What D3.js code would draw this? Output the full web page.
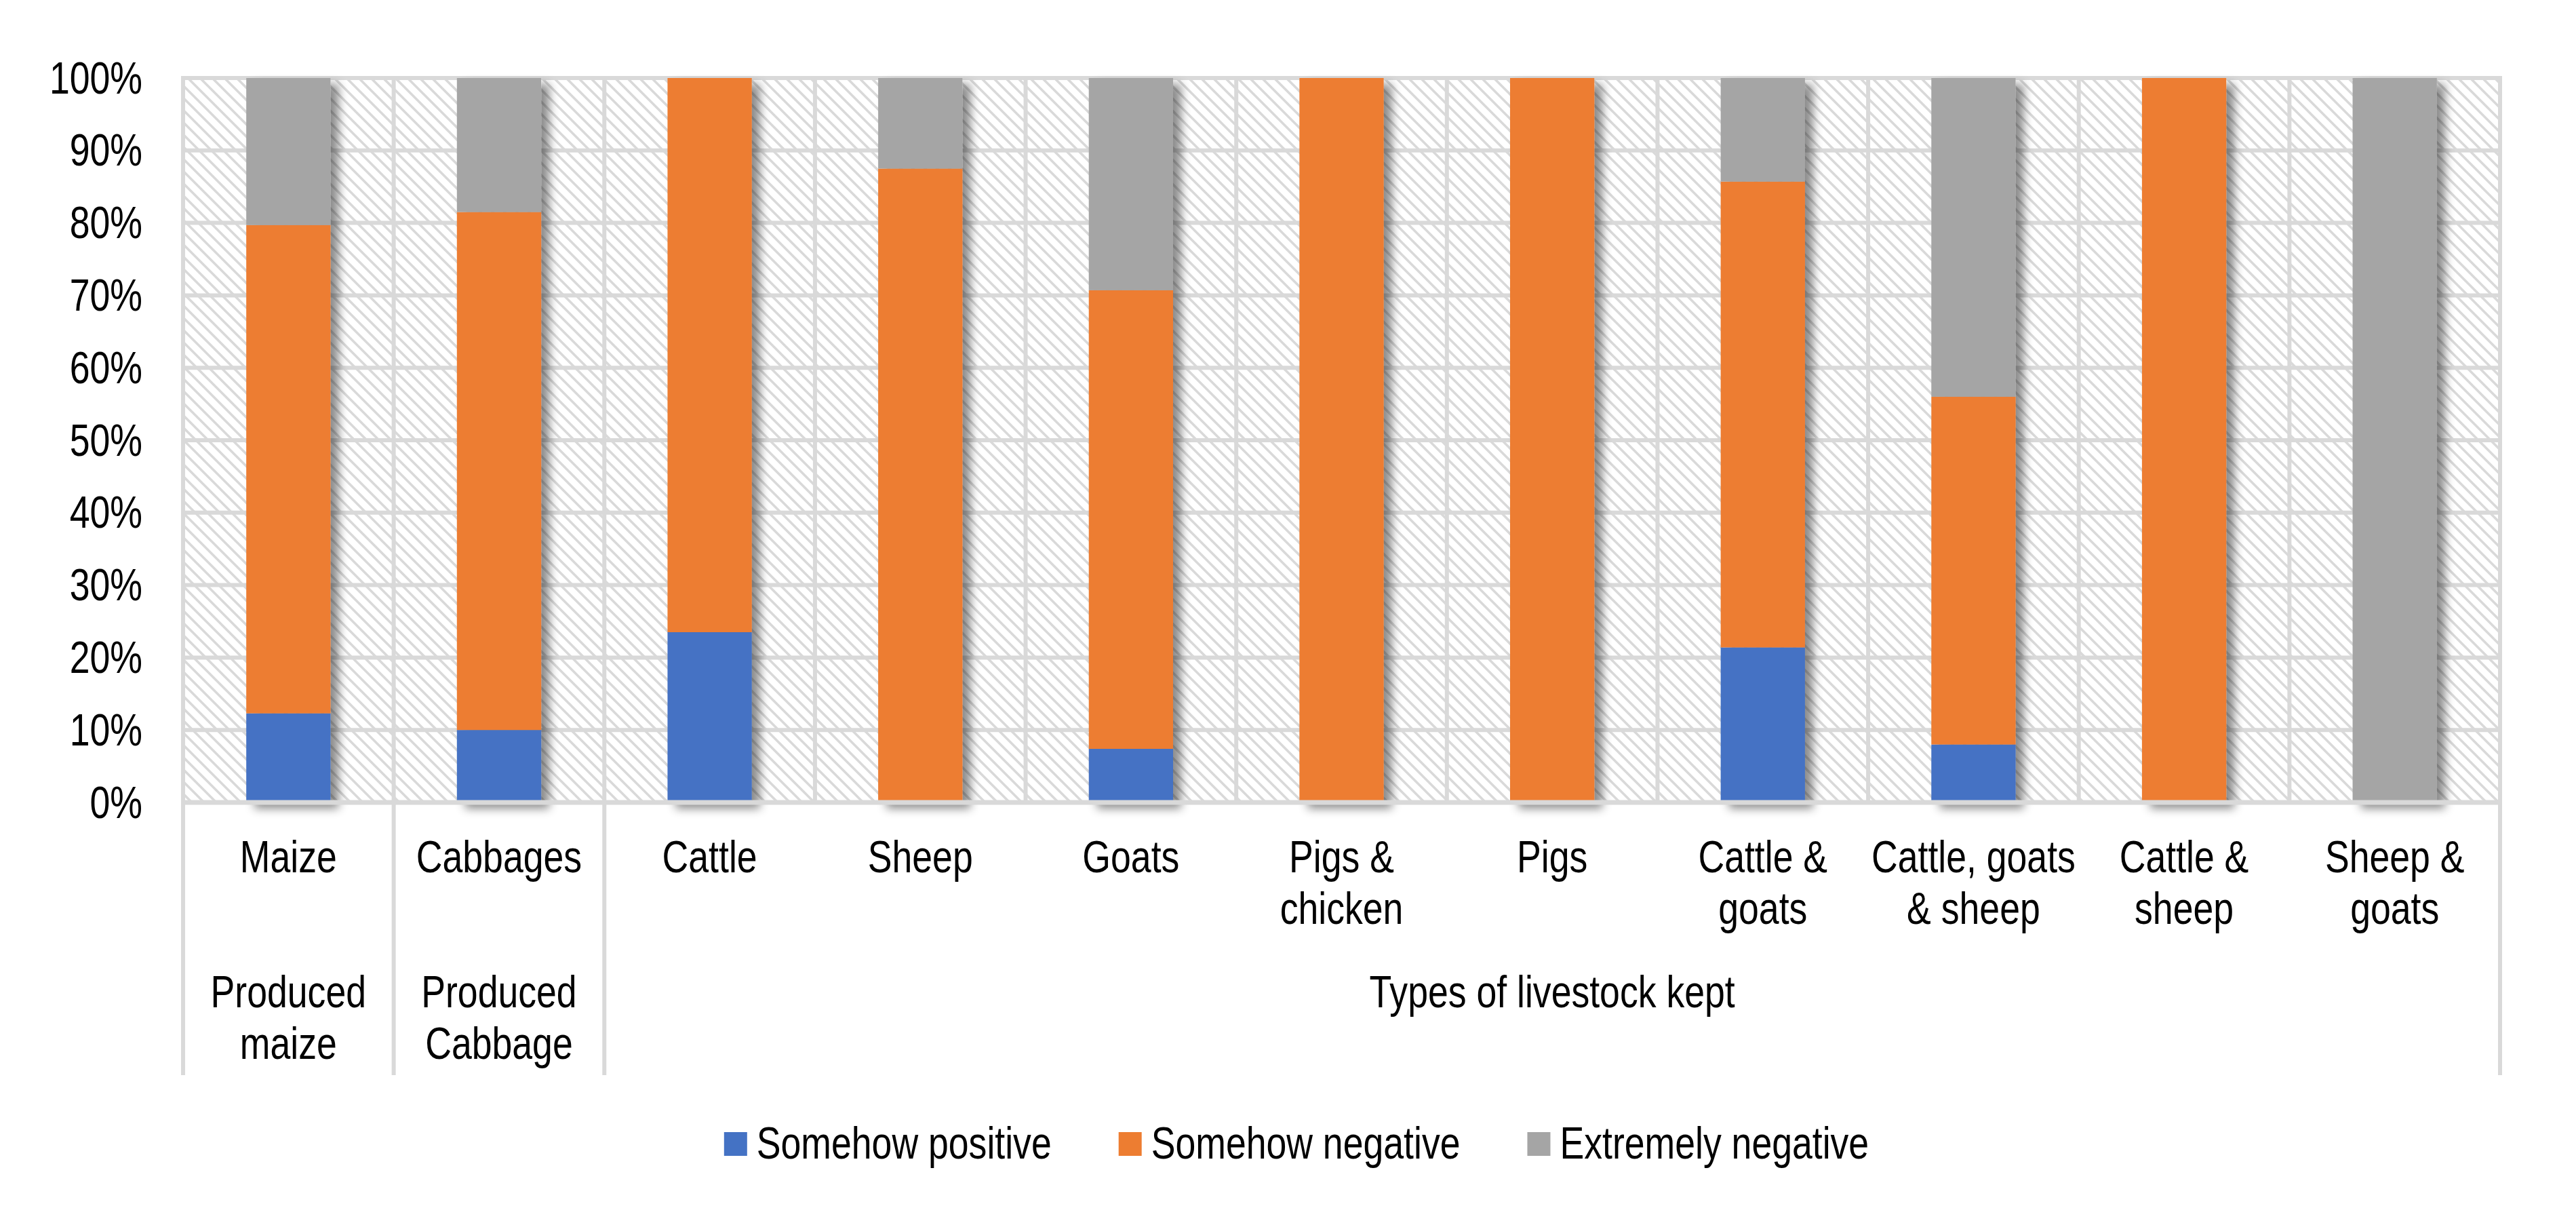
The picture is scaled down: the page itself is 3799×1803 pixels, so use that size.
<!DOCTYPE html>
<html>
<head>
<meta charset="utf-8">
<script src="https://cdn.jsdelivr.net/npm/d3@7"></script>
<style>
  body { margin: 0; background: #fff; }
</style>
</head>
<body>
<div class="chart"></div>
<script>
// categories (bottom level) and their wrapped label lines
const categories = ["Maize", "Cabbages", "Cattle", "Sheep", "Goats", "Pigs & chicken", "Pigs",
    "Cattle & goats", "Cattle, goats & sheep", "Cattle & sheep", "Sheep & goats"];
const categoryLines = [["Maize"], ["Cabbages"], ["Cattle"], ["Sheep"], ["Goats"], ["Pigs &", "chicken"],
    ["Pigs"], ["Cattle &", "goats"], ["Cattle, goats", "& sheep"], ["Cattle &", "sheep"], ["Sheep &", "goats"]];

// groups (top level of the category axis)
const groupLines = [["Produced", "maize"], ["Produced", "Cabbage"], ["Types of livestock kept"]];
const groupSizes = [1, 1, 9];

// series, in %
const seriesNames = ["Somehow positive", "Somehow negative", "Extremely negative"];
const somehowPositive  = [12.3, 10.0, 23.5, 0,    7.4, 0,   0,   21.4, 8.0,  0,   0];
const somehowNegative  = [67.4, 71.5, 76.5, 87.5, 63.3, 100, 100, 64.3, 48.0, 100, 0];
const extremelyNegative = [20.3, 18.5, 0,   12.5, 29.3, 0,   0,   14.3, 44.0, 0,   100];
const colors = ["#4472C4", "#ED7D31", "#A5A5A5"];

const yTicks = [0, 10, 20, 30, 40, 50, 60, 70, 80, 90, 100];

const width = 3799, height = 1803;
const plot = {left: 270, right: 3687, top: 115, bottom: 1183};
const font = "'Liberation Sans', Arial, sans-serif";
const fontSize = 67;
const narrow = 0.8;   // the original uses a condensed face
const gridColor = "#D9D9D9";

const svg = d3.select(".chart")
    .append("svg")
    .attr("width", width)
    .attr("height", height)
    .attr("viewBox", [0, 0, width, height])
    .style("font-family", font);

const defs = svg.append("defs");

// light downward diagonal hatch for the plot area
const hatch = defs.append("pattern")
    .attr("id", "hatch")
    .attr("patternUnits", "userSpaceOnUse")
    .attr("width", 18)
    .attr("height", 18);
hatch.append("rect").attr("width", 18).attr("height", 18).attr("fill", "#fff");
hatch.append("path")
    .attr("d", "M-2,-2L20,20M-4,14L4,22M14,-4L22,4")
    .attr("stroke", gridColor)
    .attr("stroke-width", 3.5);

const shadow = defs.append("filter")
    .attr("id", "shadow")
    .attr("x", "-30%").attr("y", "-10%")
    .attr("width", "160%").attr("height", "120%");
shadow.append("feDropShadow")
    .attr("dx", 12)
    .attr("dy", 9)
    .attr("stdDeviation", 7)
    .attr("flood-color", "#000")
    .attr("flood-opacity", 0.45);

const data = categories.map((c, i) => ({
    category: c,
    "Somehow positive": somehowPositive[i],
    "Somehow negative": somehowNegative[i],
    "Extremely negative": extremelyNegative[i]
}));

const x = d3.scaleBand()
    .domain(categories)
    .range([plot.left, plot.right])
    .paddingInner(0.6)
    .paddingOuter(0.3);

const y = d3.scaleLinear()
    .domain([0, 100])
    .range([plot.bottom, plot.top]);

const step = x.step();
const cellLeft = c => x(c) + x.bandwidth() / 2 - step / 2;

// plot background
svg.append("rect")
    .attr("x", plot.left)
    .attr("y", plot.top)
    .attr("width", plot.right - plot.left)
    .attr("height", plot.bottom - plot.top)
    .attr("fill", "url(#hatch)");

// gridlines
svg.append("g")
    .selectAll("line")
    .data(yTicks)
    .join("line")
    .attr("x1", plot.left)
    .attr("x2", plot.right)
    .attr("y1", d => y(d))
    .attr("y2", d => y(d))
    .attr("stroke", gridColor)
    .attr("stroke-width", 6);

svg.append("g")
    .selectAll("line")
    .data(categories.slice(1))
    .join("line")
    .attr("x1", d => cellLeft(d))
    .attr("x2", d => cellLeft(d))
    .attr("y1", plot.top)
    .attr("y2", plot.bottom)
    .attr("stroke", gridColor)
    .attr("stroke-width", 6);

// border sides
svg.append("line")
    .attr("x1", plot.left).attr("x2", plot.left)
    .attr("y1", plot.top - 3).attr("y2", 1585)
    .attr("stroke", gridColor).attr("stroke-width", 6);
svg.append("line")
    .attr("x1", plot.right).attr("x2", plot.right)
    .attr("y1", plot.top - 3).attr("y2", 1585)
    .attr("stroke", gridColor).attr("stroke-width", 6);

// stacked bars
const stacked = d3.stack().keys(seriesNames)(data);

const bars = svg.append("g")
    .selectAll("g")
    .data(data.map((d, i) => i))
    .join("g")
    .attr("filter", "url(#shadow)");

bars.selectAll("rect")
    .data(i => stacked.map((s, k) => ({k: k, lo: s[i][0], hi: s[i][1], c: categories[i]})).filter(d => d.hi > d.lo))
    .join("rect")
    .attr("x", d => x(d.c))
    .attr("width", x.bandwidth())
    .attr("y", d => y(d.hi))
    .attr("height", d => y(d.lo) - y(d.hi))
    .attr("fill", d => colors[d.k]);

// category axis line
svg.append("line")
    .attr("x1", plot.left - 3)
    .attr("x2", plot.right + 3)
    .attr("y1", plot.bottom)
    .attr("y2", plot.bottom)
    .attr("stroke", gridColor)
    .attr("stroke-width", 7);

// y axis
const yAxis = svg.append("g")
    .attr("transform", `translate(${plot.left},0)`)
    .call(d3.axisLeft(y).tickValues(yTicks).tickSize(0).tickPadding(60).tickFormat(d => d + "%"));
yAxis.select(".domain").remove();
yAxis.selectAll("text")
    .attr("font-family", font)
    .attr("font-size", fontSize)
    .attr("fill", "#000")
    .attr("x", -60 / narrow)
    .attr("dy", "0.33em")
    .attr("transform", `scale(${narrow},1)`);

// multi-line text, condensed horizontally around its anchor
function narrowText(g, cx, cy, lines, lineHeight) {
    g.append("text")
        .attr("transform", `translate(${cx},${cy}) scale(${narrow},1)`)
        .selectAll("tspan")
        .data(lines)
        .join("tspan")
        .attr("x", 0)
        .attr("dy", (d, j) => j === 0 ? 0 : lineHeight)
        .text(d => d);
}

// category labels (level 1)
const lineHeight = 76.5;
const labels = svg.append("g")
    .attr("font-size", fontSize)
    .attr("text-anchor", "middle")
    .attr("fill", "#000");

categories.forEach((c, i) => {
    narrowText(labels, x(c) + x.bandwidth() / 2, 1286, categoryLines[i], lineHeight);
});

// group labels (level 2) and separators
let start = 0;
groupSizes.forEach((n, g) => {
    const x0 = cellLeft(categories[start]);
    const x1 = x0 + n * step;
    narrowText(labels, (x0 + x1) / 2, 1485, groupLines[g], lineHeight);
    if (g > 0) {
        svg.append("line")
            .attr("x1", x0).attr("x2", x0)
            .attr("y1", plot.bottom).attr("y2", 1585)
            .attr("stroke", gridColor).attr("stroke-width", 6);
    }
    start += n;
});

// legend
const legend = svg.append("g")
    .attr("font-size", fontSize)
    .attr("fill", "#000");

const items = legend.selectAll("g")
    .data(seriesNames)
    .join("g");

items.append("rect")
    .attr("x", 0)
    .attr("y", 1669)
    .attr("width", 34)
    .attr("height", 35)
    .attr("fill", (d, i) => colors[i]);

items.append("text")
    .attr("transform", `translate(48,1708) scale(${narrow},1)`)
    .text(d => d);

let offset = 0;
const offsets = [];
items.each(function () {
    offsets.push(offset);
    const w = d3.select(this).select("text").node().getComputedTextLength() * narrow;
    offset += 48 + w + 99;
});
const legendWidth = offset - 99;
const legendLeft = 1912 - legendWidth / 2;
items.attr("transform", (d, i) => `translate(${legendLeft + offsets[i]},0)`);
</script>
</body>
</html>
